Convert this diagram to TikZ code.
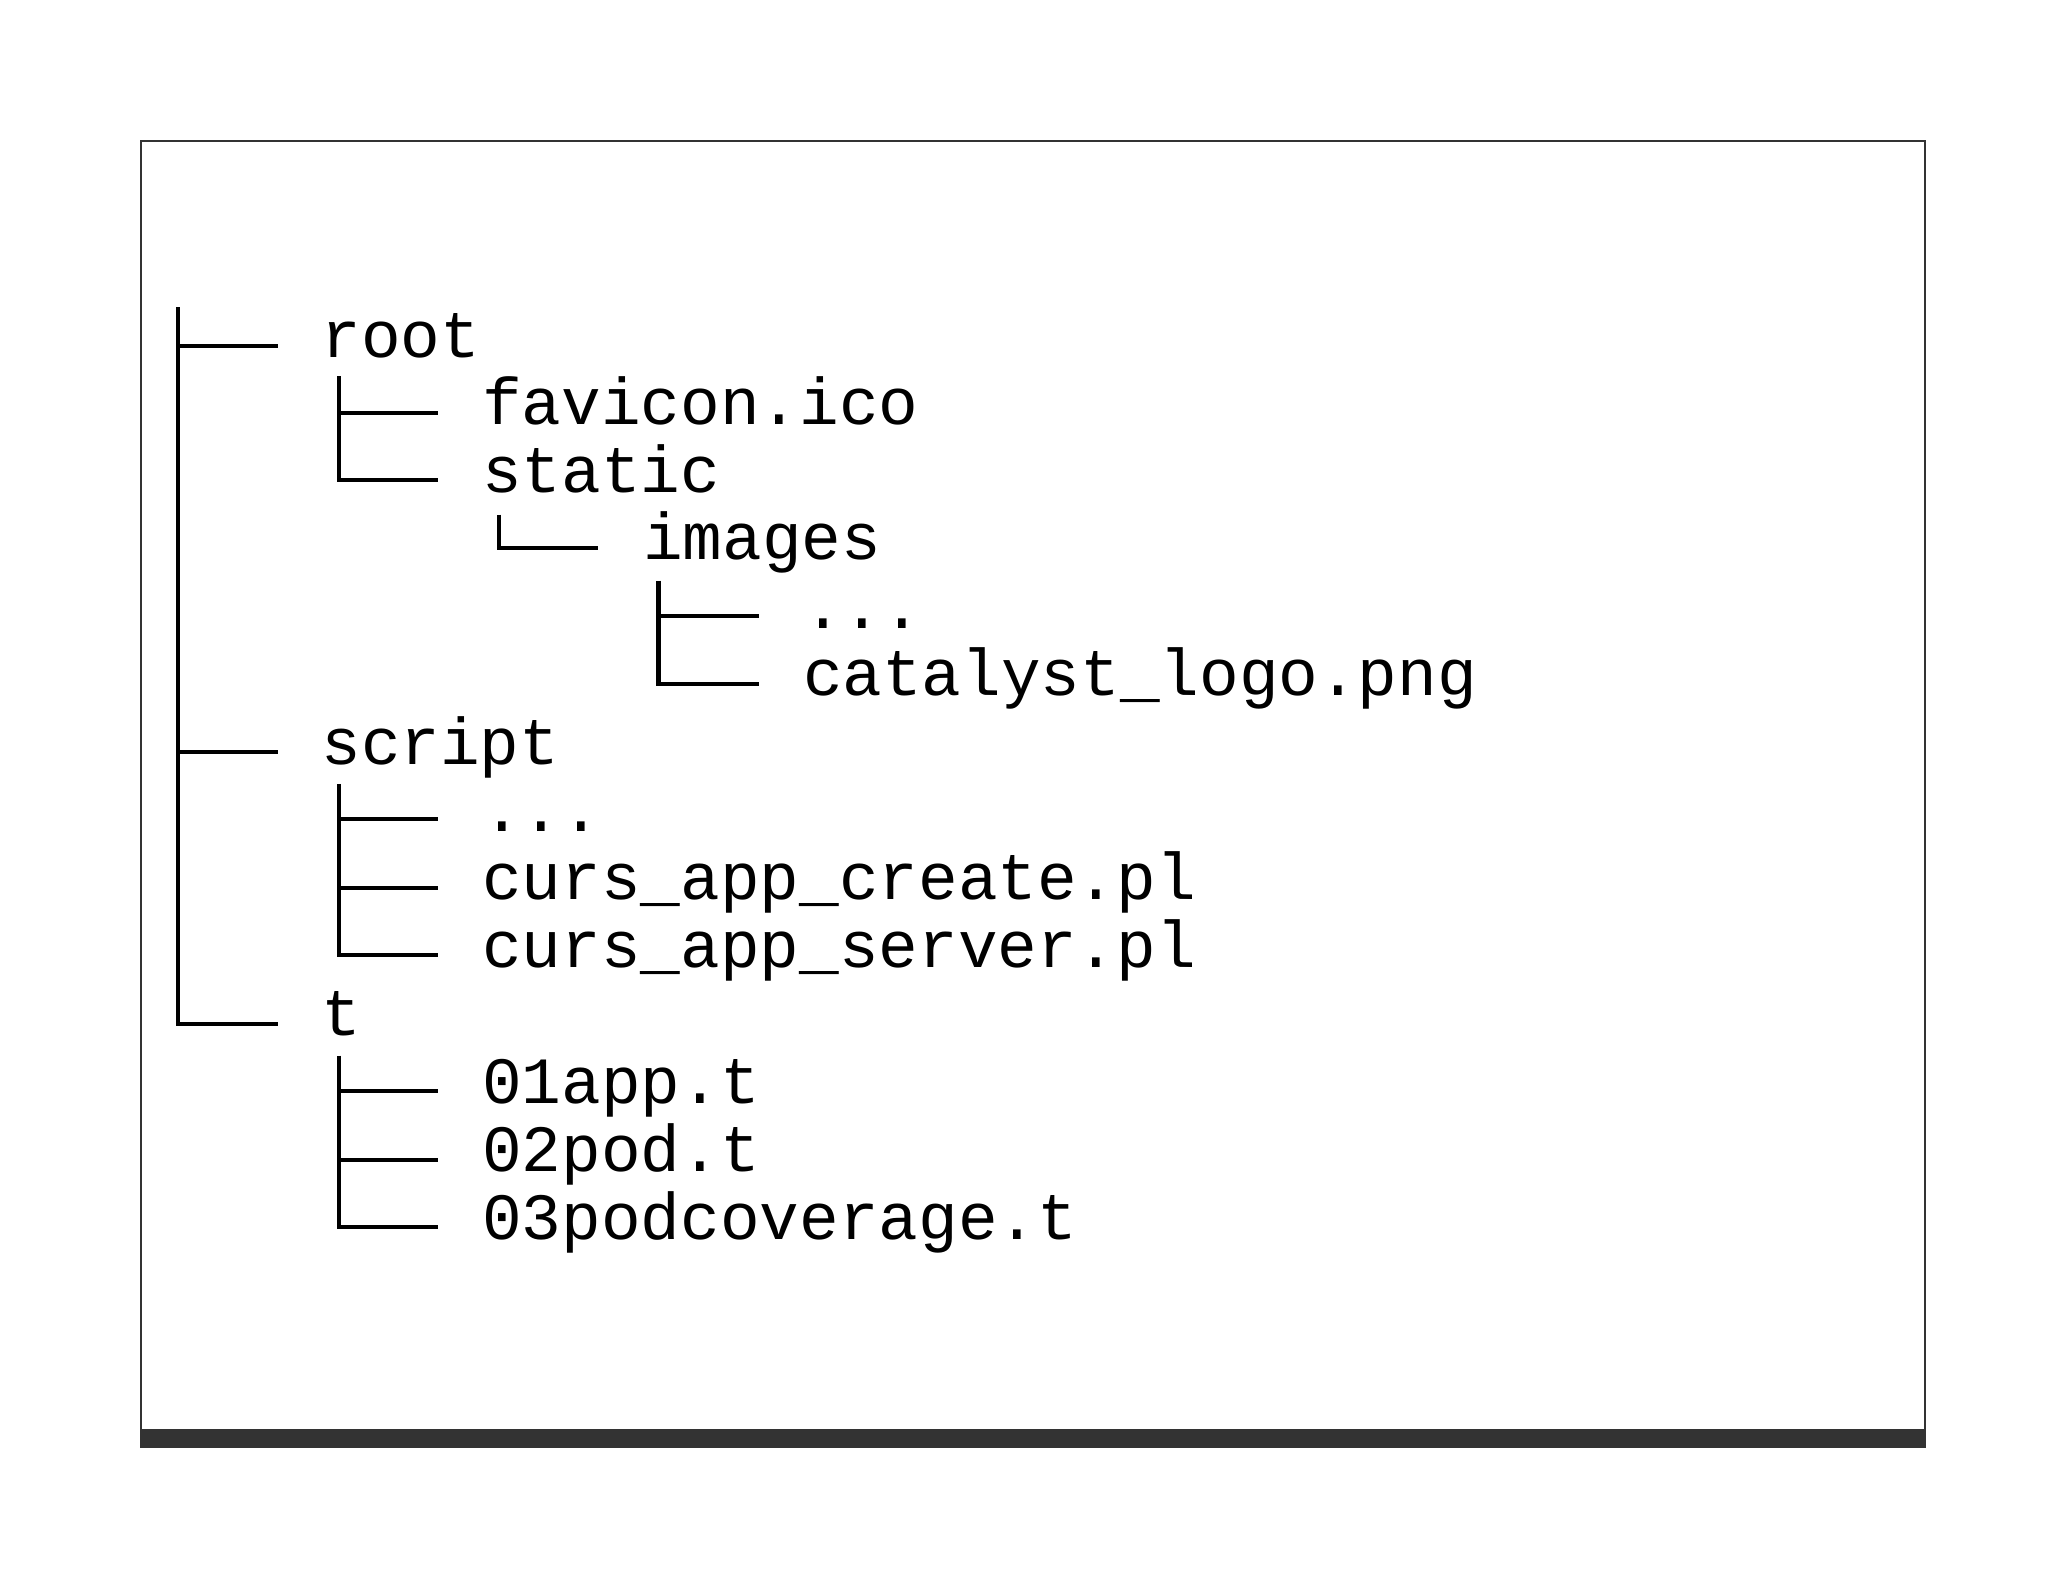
\documentclass[tikz,border=0pt]{standalone}
\usepackage{fontspec}
\setmonofont{Liberation Mono}
\begin{document}
\begin{tikzpicture}[x=0.013196cm,y=-0.013196cm,
  lbl/.style={anchor=base west,inner sep=0pt,font=\ttfamily\fontsize{18.8pt}{20pt}\selectfont},
  tree/.style={line width=1.15pt}]
\useasboundingbox (0,0) rectangle (1552,1199);
\draw[line width=0.5pt,draw=black!80] (107,107) rectangle (1459,1097);
\fill[black!80] (107,1083) rectangle (1459,1097);
% rows
\def\row#1#2#3#4{\node[lbl] (#1) at (#2,#3+9) {#4};}
\row{n1}{243}{262}{root}
\row{n2}{365}{313}{favicon.ico}
\row{n3}{365}{364}{static}
\row{n4}{487}{415}{images}
\row{n5}{608}{467}{...}
\row{n6}{608}{518}{catalyst\_logo.png}
\row{n7}{243}{570}{script}
\row{n8}{365}{621}{...}
\row{n9}{365}{673}{curs\_app\_create.pl}
\row{n10}{365}{724}{curs\_app\_server.pl}
\row{n11}{243}{776}{t}
\row{n12}{365}{827}{01app.t}
\row{n13}{365}{879}{02pod.t}
\row{n14}{365}{930}{03podcoverage.t}
% level 0
\draw[tree] (135,233) -- (135,776) -- (211,776);
\draw[tree] (135,262) -- (211,262);
\draw[tree] (135,570) -- (211,570);
% root children
\draw[tree] (257,285) -- (257,364) -- (332,364);
\draw[tree] (257,313) -- (332,313);
% static
\draw[tree] (378,390) -- (378,415) -- (453,415);
% images
\draw[tree] (499,440) -- (499,518) -- (575,518);
\draw[tree] (499,467) -- (575,467);
% script
\draw[tree] (257,594) -- (257,724) -- (332,724);
\draw[tree] (257,621) -- (332,621);
\draw[tree] (257,673) -- (332,673);
% t
\draw[tree] (257,800) -- (257,930) -- (332,930);
\draw[tree] (257,827) -- (332,827);
\draw[tree] (257,879) -- (332,879);
\end{tikzpicture}
\end{document}
